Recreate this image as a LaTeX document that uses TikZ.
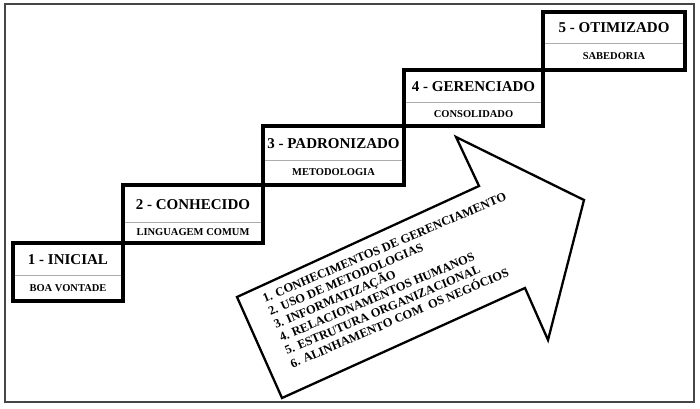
\documentclass[tikz,border=0pt]{standalone}
\usepackage{fontspec}
\setmainfont{Liberation Serif}
\begin{document}
\begin{tikzpicture}[x=1pt,y=1pt,
  frame/.style={draw=gray!55!black, line width=1.3pt},
  stagebox/.style={draw=black, line width=3.6pt, line join=miter},
  divider/.style={draw=gray!65, line width=0.8pt},
  ttl/.style={font=\bfseries\fontsize{15}{16}\selectfont, inner sep=0pt},
  sub/.style={font=\bfseries\fontsize{10.5}{12}\selectfont, inner sep=0pt},
  arrowshape/.style={draw=black, fill=white, line width=2.3pt, line join=miter},
  listtext/.style={font=\bfseries\fontsize{12.4}{14.2}\selectfont, inner sep=0pt, align=left, anchor=north west, rotate=23},
]
\useasboundingbox (0,0) rectangle (700,408);
\draw[frame] (5,6) rectangle (694,404);

% dividers
\draw[divider] (13,133) -- (123,133);
\draw[divider] (123,186) -- (263,186);
\draw[divider] (263,248) -- (404,248);
\draw[divider] (404,306) -- (543,306);
\draw[divider] (543,365) -- (685,365);

% stage boxes
\draw[stagebox] (13,107) rectangle (123,165);
\draw[stagebox] (123,165) rectangle (263,223);
\draw[stagebox] (263,223) rectangle (404,282);
\draw[stagebox] (404,282) rectangle (543,338);
\draw[stagebox] (543,338) rectangle (685,396);

% titles and subtitles
\node[ttl] (t1) at (68,148) {1 - INICIAL};
\node[sub] (s1) at (68,120) {BOA VONTADE};
\node[ttl] (t2) at (193,203.5) {2 - CONHECIDO};
\node[sub] (s2) at (193,176) {LINGUAGEM COMUM};
\node[ttl] (t3) at (333.5,264) {3 - PADRONIZADO};
\node[sub] (s3) at (333.5,235.5) {METODOLOGIA};
\node[ttl] (t4) at (473.5,321) {4 - GERENCIADO};
\node[sub] (s4) at (473.5,294) {CONSOLIDADO};
\node[ttl] (t5) at (614,380) {5 - OTIMIZADO};
\node[sub] (s5) at (614,351.5) {SABEDORIA};

% big arrow
\draw[arrowshape] (237,111) -- (479,222) -- (456,271) -- (584,208) -- (548,68) -- (525,120) -- (282,10) -- cycle;

\node[listtext] (items) at (261.5,113) {1. CONHECIMENTOS DE GERENCIAMENTO\\
2. USO DE METODOLOGIAS\\
3. INFORMATIZAÇÃO\\
4. RELACIONAMENTOS HUMANOS\\
5. ESTRUTURA ORGANIZACIONAL\\
6. ALINHAMENTO COM\ \ OS NEGÓCIOS};
\end{tikzpicture}
\end{document}
